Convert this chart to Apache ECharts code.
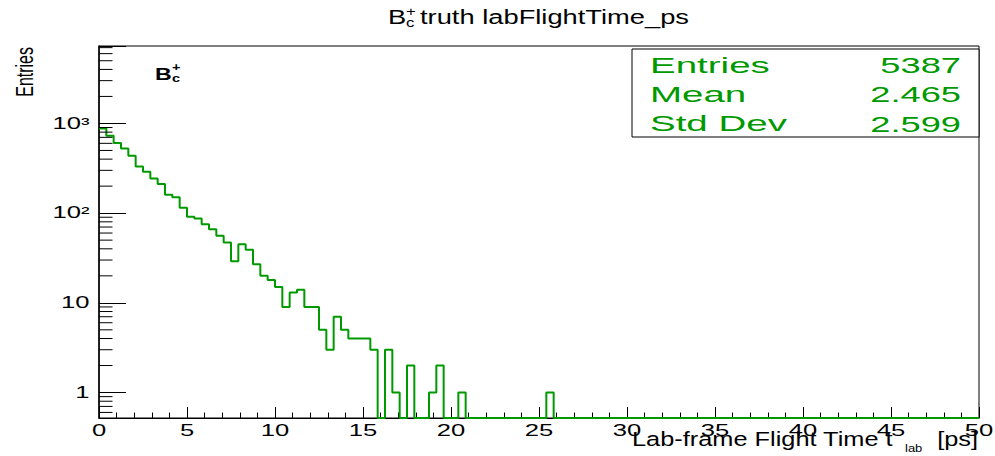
<!DOCTYPE html>
<html><head><meta charset="utf-8">
<script src="https://cdn.jsdelivr.net/npm/echarts@6/dist/echarts.min.js"></script>
<style>html,body{margin:0;padding:0;background:#fff}#c{width:995px;height:456px}</style>
</head><body><div id="c"></div>
<script>
// ---- data ----
const X_MIN = 0, X_MAX = 50, N_BINS = 120;
const Y_MIN = 0.52, Y_MAX = 7300;
const binCounts = [
  877, 729, 605, 526, 436, 331, 289, 243, 211, 160,
  150, 115, 91, 87, 75, 66, 56, 47, 29, 45,
  39, 27, 20, 18, 15, 9, 13, 14, 9, 9,
  5, 3, 7, 5, 4, 4, 4, 3, 0, 3,
  1, 0, 2, 0, 0, 1, 2, 0, 0, 1,
  0, 0, 0, 0, 0, 0, 0, 0, 0, 0,
  0, 1, 0, 0, 0, 0, 0, 0, 0, 0,
  0, 0, 0, 0, 0, 0, 0, 0, 0, 0,
  0, 0, 0, 0, 0, 0, 0, 0, 0, 0,
  0, 0, 0, 0, 0, 0, 0, 0, 0, 0,
  0, 0, 0, 0, 0, 0, 0, 0, 0, 0,
  0, 0, 0, 0, 0, 0, 0, 0, 0, 0
];
const xTickValues = [0, 5, 10, 15, 20, 25, 30, 35, 40, 45, 50];
const xTickLabels = ['0', '5', '10', '15', '20', '25', '30', '35', '40', '45', '50'];
const yTickValues = [1, 10, 100, 1000];
const yTickLabels = ['1', '10', '10²', '10³'];
const yMinorTicks = [0.6, 0.7, 0.8, 0.9,
  2, 3, 4, 5, 6, 7, 8, 9,
  20, 30, 40, 50, 60, 70, 80, 90,
  200, 300, 400, 500, 600, 700, 800, 900,
  2000, 3000, 4000, 5000, 6000, 7000];
const statsLabels = ['Entries', 'Mean', 'Std Dev'];
const statsValues = ['5387', '2.465', '2.599'];

// ---- build ----
const GREEN = '#009900';
const FONT = '"Liberation Sans", Arial, Helvetica, sans-serif';
const binWidth = (X_MAX - X_MIN) / N_BINS;
const stepPoints = binCounts.map((c, i) => [X_MIN + i * binWidth, c > 0 ? c : Y_MIN]);
stepPoints.push([X_MAX, binCounts[N_BINS - 1] > 0 ? binCounts[N_BINS - 1] : Y_MIN]);

const chart = echarts.init(document.getElementById('c'), null, {renderer: 'svg'});

const graphics = [];
function txt(text, x, y, size, opts) {
  opts = opts || {};
  graphics.push({
    type: 'text', x: x, y: y, z: 100,
    rotation: opts.rotation || 0,
    scaleX: opts.scaleX || 1, scaleY: opts.scaleY || 1,
    style: {
      text: text, fill: opts.color || '#000',
      font: (opts.bold ? 'bold ' : '') + size + 'px ' + FONT,
      align: opts.align || 'left', verticalAlign: 'middle'
    }
  });
}
// title
txt('B', 388, 17, 19.5, {scaleX: 1.4});
txt('+', 406, 12, 12, {scaleX: 1.4});
txt('c', 406, 23, 12, {scaleX: 1.4});
txt('truth labFlightTime_ps', 420, 17, 19.5, {scaleX: 1.4});
// y title
txt('Entries', 24, 47, 16, {rotation: Math.PI / 2, scaleY: 1.55, align: 'right'});
// x title
txt('Lab-frame Flight Time t', 632, 440, 19.5, {scaleX: 1.3});
txt('lab', 905, 449, 10, {scaleX: 1.3});
txt('[ps]', 978, 440, 19.5, {scaleX: 1.3, align: 'right'});
// in-plot label
txt('B', 155, 74, 16, {bold: true, scaleX: 1.45});
txt('+', 172, 68, 10, {bold: true, scaleX: 1.45});
txt('c', 172, 79, 10, {bold: true, scaleX: 1.45});
// stats box
graphics.push({type: 'rect', z: 99, shape: {x: 632, y: 49, width: 347, height: 88},
  style: {fill: '#fff', stroke: '#000', lineWidth: 1}});
const rowY = [65.3, 94.7, 124];
statsLabels.forEach((s, i) => txt(s, 650, rowY[i], 22, {scaleX: 1.75, color: GREEN}));
statsValues.forEach((s, i) => txt(s, 961, rowY[i], 22, {scaleX: 1.65, color: GREEN, align: 'right'}));

const option = {
  animation: false,
  backgroundColor: '#fff',
  grid: {left: 99, right: 16, top: 46, bottom: 38, show: true, borderColor: '#000', borderWidth: 1, backgroundColor: 'transparent'},
  xAxis: {
    type: 'value', min: X_MIN, max: X_MAX, interval: 5,
    axisLine: {lineStyle: {color: '#000', width: 1}},
    axisTick: {inside: true, length: 11, lineStyle: {color: '#000'}},
    minorTick: {show: true, splitNumber: 5, length: 5.5, lineStyle: {color: '#000'}},
    splitLine: {show: false},
    axisLabel: {show: false}
  },
  yAxis: {
    type: 'log', logBase: 10, min: Y_MIN, max: Y_MAX,
    axisLine: {show: true, lineStyle: {color: '#000', width: 1.5}},
    axisTick: {inside: true, length: 27, lineStyle: {color: '#000'}},
    splitLine: {show: false},
    axisLabel: {show: false}
  },
  series: [
    {
      type: 'line', step: 'end', data: stepPoints, showSymbol: false, symbol: 'none',
      lineStyle: {color: GREEN, width: 2}, z: 5, silent: true
    },
    {
      // minor log ticks on the y axis
      type: 'custom', silent: true, z: 6,
      data: yMinorTicks.map(v => [X_MIN, v]),
      renderItem: function (params, api) {
        const p = api.coord([api.value(0), api.value(1)]);
        return {type: 'line', shape: {x1: p[0], y1: p[1], x2: p[0] + 13.5, y2: p[1]},
          style: {stroke: '#000', lineWidth: 1}};
      }
    },
    {
      // x tick labels (wide ROOT-style glyphs)
      type: 'custom', silent: true, z: 7, clip: false,
      data: xTickValues.map((v, i) => [v, Y_MIN, i]),
      renderItem: function (params, api) {
        const p = api.coord([api.value(0), api.value(1)]);
        return {type: 'text', x: p[0], y: p[1] + 12.5, scaleX: 1.6,
          style: {text: xTickLabels[api.value(2)], font: '16px ' + FONT, fill: '#000',
            align: 'center', verticalAlign: 'middle'}};
      }
    },
    {
      // y tick labels
      type: 'custom', silent: true, z: 7, clip: false,
      data: yTickValues.map((v, i) => [X_MIN, v, i]),
      renderItem: function (params, api) {
        const p = api.coord([api.value(0), api.value(1)]);
        return {type: 'text', x: p[0] - 9.5, y: p[1], scaleX: 1.6,
          style: {text: yTickLabels[api.value(2)], font: '16px ' + FONT, fill: '#000',
            align: 'right', verticalAlign: 'middle'}};
      }
    }
  ],
  graphic: graphics
};
chart.setOption(option);
</script></body></html>
